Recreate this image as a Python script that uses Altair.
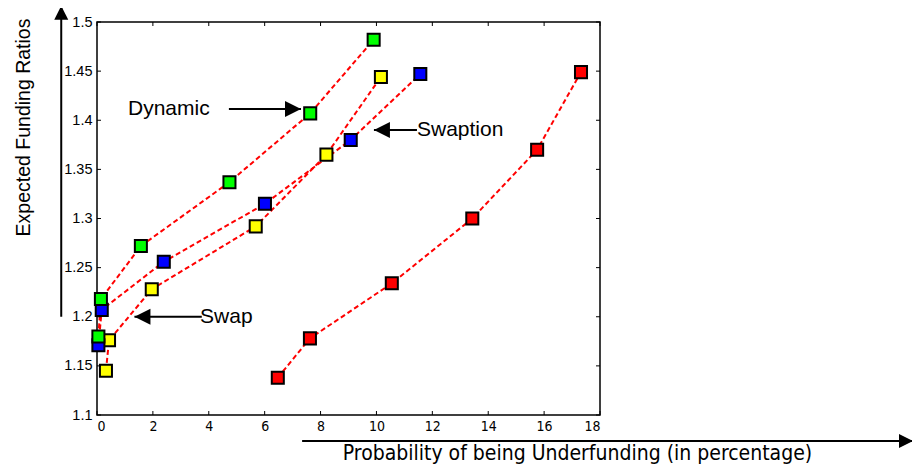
import altair as alt
import pandas as pd

# ---- data ----
series = ["None", "Swap", "Swaption", "Dynamic"]
series_colors = ["#ff0000", "#ffff00", "#0000ff", "#00ff00"]

red_x = [6.47, 7.62, 10.55, 13.43, 15.75, 17.32]
red_y = [1.138, 1.178, 1.234, 1.300, 1.370, 1.449]
yellow_x = [0.32, 0.43, 1.96, 5.68, 8.21, 10.16]
yellow_y = [1.145, 1.176, 1.228, 1.292, 1.365, 1.444]
blue_x = [0.05, 0.17, 2.39, 6.01, 9.08, 11.57]
blue_y = [1.171, 1.207, 1.256, 1.315, 1.380, 1.447]
green_x = [0.05, 0.14, 1.57, 4.74, 7.63, 9.90]
green_y = [1.180, 1.218, 1.272, 1.337, 1.407, 1.482]

x_ticks = [0, 2, 4, 6, 8, 10, 12, 14, 16, 18]
y_ticks = [1.1, 1.15, 1.2, 1.25, 1.3, 1.35, 1.4, 1.45, 1.5]

ann_text = ["Dynamic", "Swaption", "Swap"]
ann_text_x = [1.11, 11.45, 3.69]
ann_text_y = [1.411, 1.390, 1.200]
ann_tail_x = [4.72, 11.45, 3.75]
ann_tip_x = [7.30, 9.91, 1.34]
ann_arrow_y = [1.4115, 1.390, 1.200]
ann_angle = [0, 180, 180]

# axis arrows (decorations outside the plot box, in data units)
yarrow_x = [-1.28]
yarrow_y0 = [1.2]
yarrow_tip = [1.5165]
xarrow_y = [1.0735]
xarrow_x0 = [7.34]
xarrow_tip = [29.2]

x_title = "Probability of being Underfunding (in percentage)"
y_title = "Expected Funding Ratios"

# ---- build tables ----
rows = []
for name, xs_, ys_ in zip(series, [red_x, yellow_x, blue_x, green_x],
                          [red_y, yellow_y, blue_y, green_y]):
    for i, (a, b) in enumerate(zip(xs_, ys_)):
        rows.append({"series": name, "idx": i, "x": a, "y": b,
                     "layer": series.index(name)})
df = pd.DataFrame(rows)

ann_df = pd.DataFrame({"text": ann_text, "tx": ann_text_x, "ty": ann_text_y,
                       "x0": ann_tail_x, "x1": ann_tip_x, "y": ann_arrow_y,
                       "angle": ann_angle})
xt_df = pd.DataFrame({"v": x_ticks})
yt_df = pd.DataFrame({"v": y_ticks})
yarr_df = pd.DataFrame({"x": yarrow_x, "y0": yarrow_y0, "tip": yarrow_tip})
xarr_df = pd.DataFrame({"y": xarrow_y, "x0": xarrow_x0, "tip": xarrow_tip})

W, H = 503, 393
xs = alt.Scale(domain=[0, 18], nice=False, zero=False)
ys = alt.Scale(domain=[1.1, 1.5], nice=False, zero=False)

head_shape = "M0,0L-2,-1L-2,1Z"

xaxis = alt.Axis(values=x_ticks, format="d", title=x_title,
                 titleX=480, titleY=38, titleAlign="center",
                 titleBaseline="middle", titleFont="DejaVu Sans Condensed",
                 titleFontSize=21, titleFontWeight="normal",
                 labelFont="DejaVu Sans Condensed", labelFontSize=14,
                 labelPadding=4)
yaxis = alt.Axis(values=y_ticks, format="~g", title=y_title,
                 titleX=-74, titleY=105, titleAngle=270, titleAlign="center",
                 titleBaseline="middle", titleFont="Liberation Sans",
                 titleFontSize=19.5, titleFontWeight="normal",
                 labelFont="Liberation Sans", labelFontSize=14.5,
                 labelPadding=5)

lines = alt.Chart(df).mark_line(color="#ff0000", strokeDash=[5, 3],
                                strokeWidth=2).encode(
    x=alt.X("x:Q", scale=xs, axis=xaxis),
    y=alt.Y("y:Q", scale=ys, axis=yaxis),
    detail="series:N",
    order="idx:Q",
)

points = alt.Chart(df).mark_square(size=145, stroke="black", strokeWidth=2,
                                   opacity=1).encode(
    x=alt.X("x:Q", scale=xs),
    y=alt.Y("y:Q", scale=ys),
    fill=alt.Fill("series:N", scale=alt.Scale(domain=series,
                                               range=series_colors),
                  legend=None),
    order="layer:Q",
)

tick_b = alt.Chart(xt_df).mark_rule(color="black").encode(
    x=alt.X("v:Q", scale=xs), y=alt.value(H), y2=alt.value(H - 4))
tick_t = alt.Chart(xt_df).mark_rule(color="black").encode(
    x=alt.X("v:Q", scale=xs), y=alt.value(0), y2=alt.value(4))
tick_l = alt.Chart(yt_df).mark_rule(color="black").encode(
    y=alt.Y("v:Q", scale=ys), x=alt.value(0), x2=alt.value(4))
tick_r = alt.Chart(yt_df).mark_rule(color="black").encode(
    y=alt.Y("v:Q", scale=ys), x=alt.value(W), x2=alt.value(W - 4))

ann_txt = alt.Chart(ann_df).mark_text(align="left", baseline="middle",
                                      font="Liberation Sans", fontSize=21,
                                      color="black").encode(
    x=alt.X("tx:Q", scale=xs), y=alt.Y("ty:Q", scale=ys), text="text:N")
ann_shaft = alt.Chart(ann_df).mark_rule(color="black", strokeWidth=2).encode(
    x=alt.X("x0:Q", scale=xs), x2="x1:Q", y=alt.Y("y:Q", scale=ys))
ann_head = alt.Chart(ann_df).mark_point(shape=head_shape, size=256,
                                        filled=True, color="black",
                                        opacity=1).encode(
    x=alt.X("x1:Q", scale=xs), y=alt.Y("y:Q", scale=ys),
    angle=alt.Angle("angle:Q", scale=None))

yarr_shaft = alt.Chart(yarr_df).mark_rule(color="black", strokeWidth=2).encode(
    x=alt.X("x:Q", scale=xs), y=alt.Y("y0:Q", scale=ys), y2="tip:Q")
yarr_head = alt.Chart(yarr_df).mark_point(shape=head_shape, size=196,
                                          filled=True, color="black",
                                          opacity=1, angle=270).encode(
    x=alt.X("x:Q", scale=xs), y=alt.Y("tip:Q", scale=ys))
xarr_shaft = alt.Chart(xarr_df).mark_rule(color="black", strokeWidth=2).encode(
    x=alt.X("x0:Q", scale=xs), x2="tip:Q", y=alt.Y("y:Q", scale=ys))
xarr_head = alt.Chart(xarr_df).mark_point(shape=head_shape, size=196,
                                          filled=True, color="black",
                                          opacity=1).encode(
    x=alt.X("tip:Q", scale=xs), y=alt.Y("y:Q", scale=ys))

chart = alt.layer(
    lines, points, tick_b, tick_t, tick_l, tick_r,
    ann_shaft, ann_head, ann_txt,
    yarr_shaft, yarr_head, xarr_shaft, xarr_head,
).properties(
    width=W, height=H,
    autosize=alt.AutoSizeParams(type="none"),
    padding={"left": 89, "top": 14, "right": 312, "bottom": 51},
    background="white",
).configure_view(
    stroke="black", strokeWidth=1.5
).configure_axis(
    grid=False, domain=False, ticks=False, tickSize=0,
    labelColor="black", titleColor="black",
)

chart.save("out.html", embed_options={"renderer": "svg", "actions": False})
